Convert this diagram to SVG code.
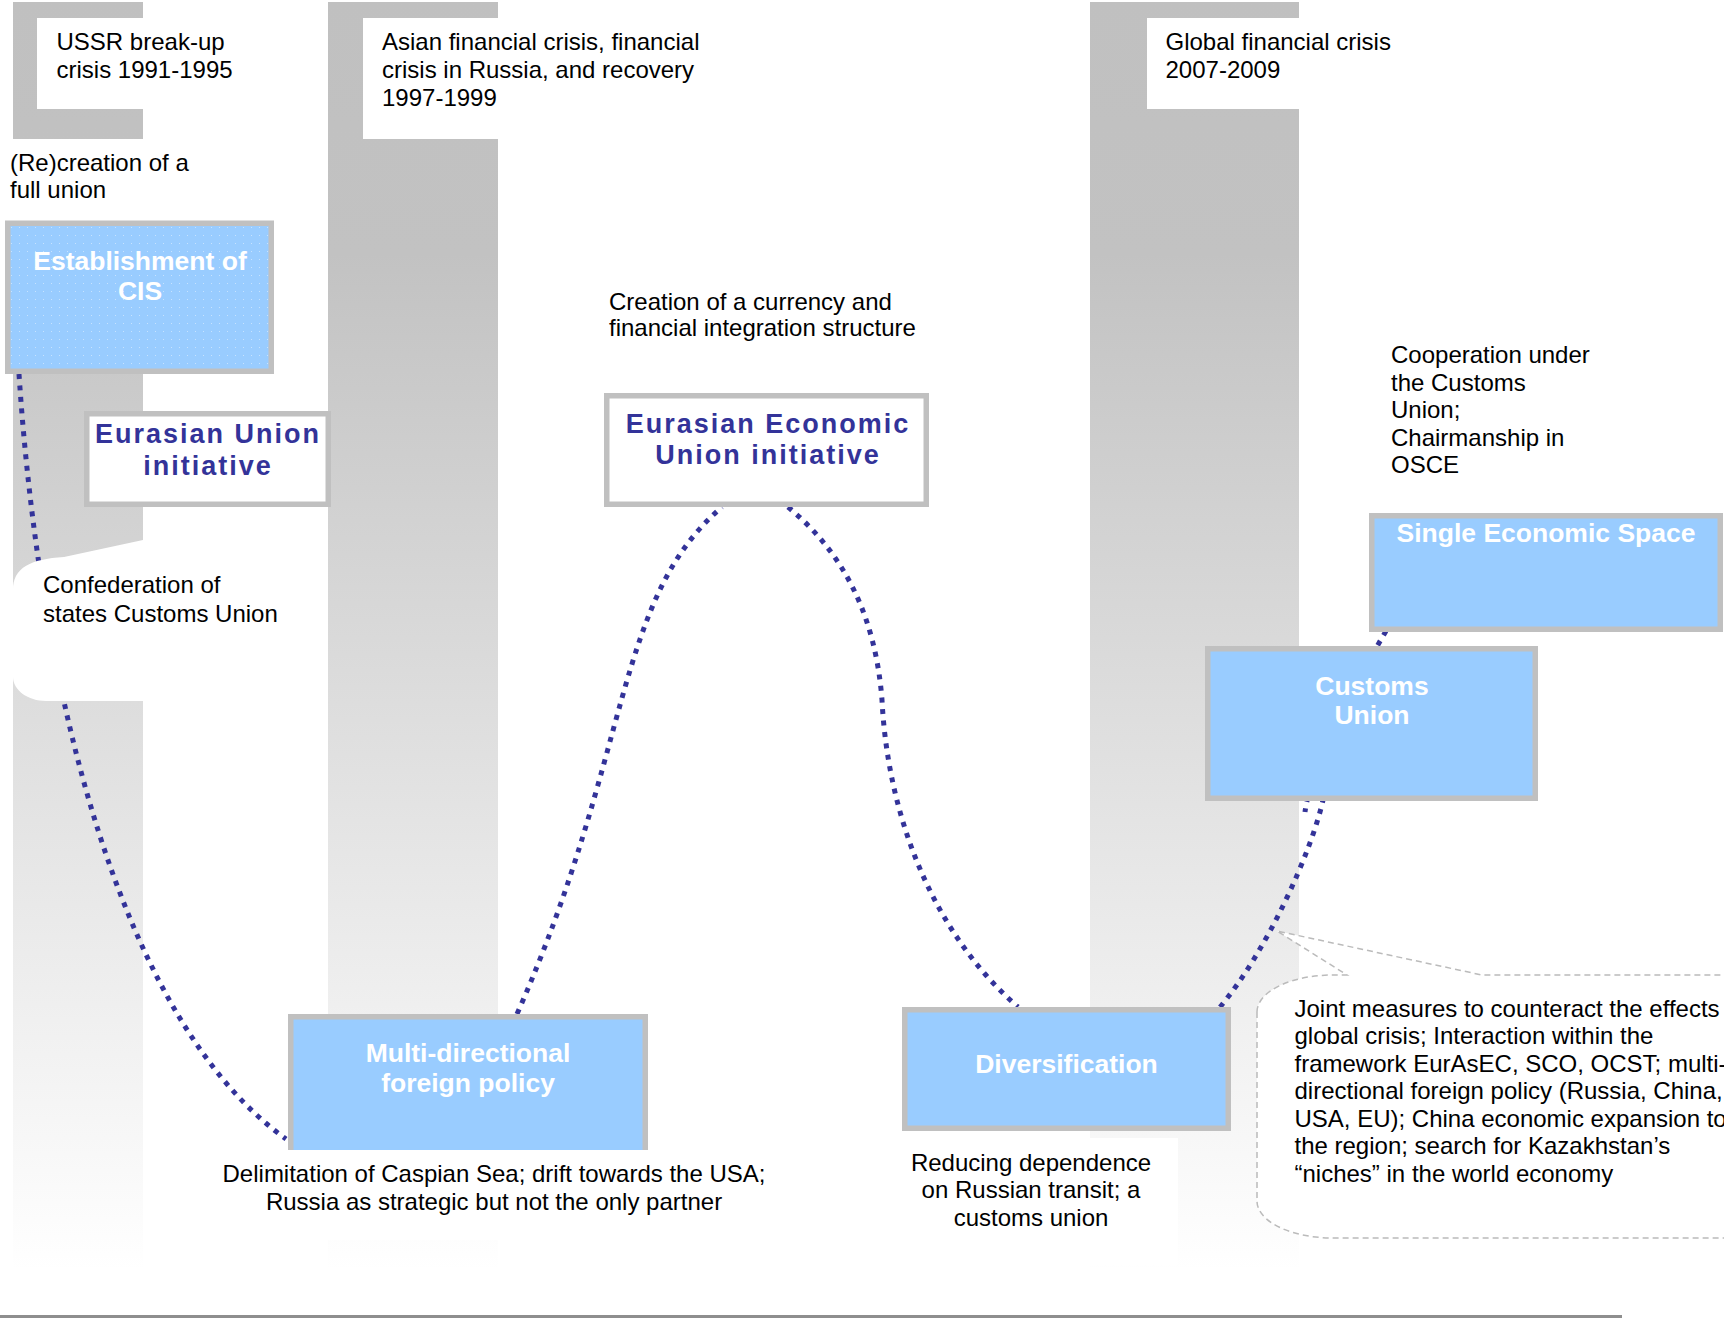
<svg xmlns="http://www.w3.org/2000/svg" width="1724" height="1319" viewBox="0 0 1724 1319">
<defs>
<linearGradient id="colGrad" gradientUnits="userSpaceOnUse" x1="0" y1="0" x2="0" y2="1270">
<stop offset="0" stop-color="#c0c0c0"/>
<stop offset="0.2" stop-color="#c2c2c2"/>
<stop offset="1" stop-color="#ffffff"/>
</linearGradient>
<pattern id="dots" width="8" height="8" patternUnits="userSpaceOnUse">
<rect width="8" height="8" fill="#99ccff"/>
<rect x="3" y="3" width="1" height="1" fill="#ffffff" opacity="0.45"/>
</pattern>
<style>
.t{font-family:'Liberation Sans',Arial,Helvetica,sans-serif;font-size:24px;fill:#000}
.bw{font-family:'Liberation Sans',Arial,Helvetica,sans-serif;font-weight:bold;font-size:26.5px;fill:#fff;text-anchor:middle}
.eu{font-family:'Liberation Sans',Arial,Helvetica,sans-serif;font-weight:bold;font-size:27px;fill:#333399;letter-spacing:2px;text-anchor:middle}
.c{text-anchor:middle}
.box{fill:#99ccff;stroke:#c0c0c0;stroke-width:5.5}
.wbox{fill:#fff;stroke:#c0c0c0;stroke-width:5.5}
.col{fill:url(#colGrad)}
.con{fill:none;stroke:#333399;stroke-width:5;stroke-dasharray:5 6.5}
.callout{fill:#fff;stroke:#bbbbbb;stroke-width:1.5;stroke-dasharray:6 4}
</style>
</defs>
<rect x="0" y="0" width="1724" height="1319" fill="#fff"/>

<g id="periods">
<rect class="col" x="13" y="2" width="130" height="1266"/>
<rect class="col" x="328" y="2" width="170" height="1266"/>
<rect class="col" x="1090" y="2" width="209" height="1266"/>
<rect x="37" y="18" width="106" height="91" fill="#fff"/>
<rect x="13" y="139" width="130" height="82" fill="#fff"/>
<rect x="363" y="18" width="135" height="121" fill="#fff"/>
<rect x="1147" y="18" width="152" height="91" fill="#fff"/>
<text class="t" x="56.5" y="50">USSR break-up</text>
<text class="t" x="56.5" y="78">crisis 1991-1995</text>
<text class="t" x="382" y="50">Asian financial crisis, financial</text>
<text class="t" x="382" y="78">crisis in Russia, and recovery</text>
<text class="t" x="382" y="106">1997-1999</text>
<text class="t" x="1165.5" y="50">Global financial crisis</text>
<text class="t" x="1165.5" y="78">2007-2009</text>
</g>

<g id="labels">
<text class="t" x="10" y="171">(Re)creation of a</text>
<text class="t" x="10" y="197.5">full union</text>
<text class="t" x="609" y="310">Creation of a currency and</text>
<text class="t" x="609" y="336">financial integration structure</text>
<text class="t" x="1391" y="363">Cooperation under</text>
<text class="t" x="1391" y="391">the Customs</text>
<text class="t" x="1391" y="418">Union;</text>
<text class="t" x="1391" y="446">Chairmanship in</text>
<text class="t" x="1391" y="473">OSCE</text>
</g>

<g id="connectors">
<path class="con" d="M19,374 C40,690 120,1020 286,1139"/>
<path class="con" d="M517,1014 C632,754 614,599 722,507"/>
<path class="con" d="M788,507 C840,550 875,610 882,700 C888,820 935,935 1018,1007"/>
<path class="con" d="M1220,1007 C1268,950 1312,850 1323,800"/>
<path class="con" d="M1386,631 C1360,675 1312,760 1305,812"/>
</g>

<g id="confederation">
<path d="M13,590 C13,568 30,559 64,557 L143,540 L143,701 L46,701 C28,701 13,690 13,677 Z" fill="#fff"/>
<text class="t" x="43" y="593">Confederation of</text>
<text class="t" x="43" y="622">states Customs Union</text>
</g>

<g id="joint-measures">
<path class="callout" d="M1257,1012 A76,37 0 0 1 1333,975 L1347,975 L1277,931 L1482,975 L1730,975 L1730,1238 L1333,1238 A76,37 0 0 1 1257,1201 Z"/>
<text class="t" x="1294.5" y="1017">Joint measures to counteract the effects</text>
<text class="t" x="1294.5" y="1044">global crisis; Interaction within the</text>
<text class="t" x="1294.5" y="1072">framework EurAsEC, SCO, OCST; multi-</text>
<text class="t" x="1294.5" y="1099">directional foreign policy (Russia, China,</text>
<text class="t" x="1294.5" y="1127">USA, EU); China economic expansion to</text>
<text class="t" x="1294.5" y="1154">the region; search for Kazakhstan’s</text>
<text class="t" x="1294.5" y="1182">“niches” in the world economy</text>
</g>

<g id="cis">
<rect x="7.75" y="223.25" width="263.5" height="148" fill="url(#dots)" stroke="#c0c0c0" stroke-width="5.5"/>
<text class="bw" x="140" y="270">Establishment of</text>
<text class="bw" x="140" y="300">CIS</text>
</g>

<g id="eurasian-union">
<rect class="wbox" x="86.75" y="413.75" width="241.5" height="90.5"/>
<text class="eu" x="208" y="443">Eurasian Union</text>
<text class="eu" x="208" y="475">initiative</text>
</g>

<g id="eurasian-economic-union">
<rect class="wbox" x="606.75" y="395.75" width="319.5" height="108.5"/>
<text class="eu" x="768" y="433">Eurasian Economic</text>
<text class="eu" x="768" y="464">Union initiative</text>
</g>

<g id="single-economic-space">
<rect class="box" x="1371.75" y="515.75" width="348.5" height="113.5"/>
<text class="bw" x="1546" y="542">Single Economic Space</text>
</g>

<g id="customs-union">
<rect class="box" x="1207.75" y="648.75" width="327.5" height="149.5"/>
<text class="bw" x="1372" y="695">Customs</text>
<text class="bw" x="1372" y="724">Union</text>
</g>

<g id="multi-directional">
<rect class="box" x="290.75" y="1016.75" width="354.5" height="150"/>
<rect x="210" y="1150" width="575" height="90" fill="#fff"/>
<text class="bw" x="468" y="1062">Multi-directional</text>
<text class="bw" x="468" y="1092">foreign policy</text>
<text class="t c" x="494" y="1182">Delimitation of Caspian Sea; drift towards the USA;</text>
<text class="t c" x="494" y="1210">Russia as strategic but not the only partner</text>
</g>

<g id="diversification">
<rect class="box" x="904.75" y="1009.75" width="323.5" height="118.5"/>
<rect x="895" y="1138" width="283" height="127" fill="#fff"/>
<text class="bw" x="1066.5" y="1073">Diversification</text>
<text class="t c" x="1031" y="1171">Reducing dependence</text>
<text class="t c" x="1031" y="1198">on Russian transit; a</text>
<text class="t c" x="1031" y="1226">customs union</text>
</g>

<line x1="0" y1="1316.5" x2="1622" y2="1316.5" stroke="#8e8e8e" stroke-width="3"/>
</svg>
